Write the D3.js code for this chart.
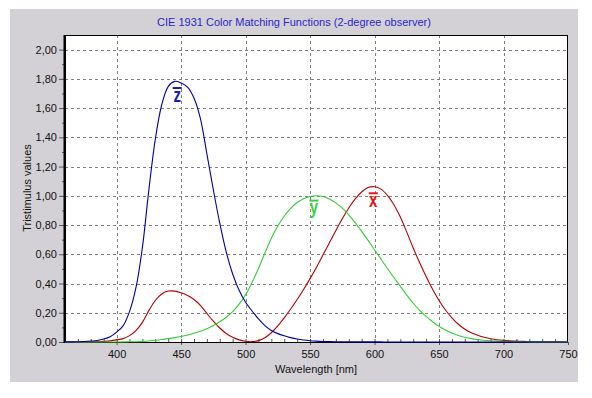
<!DOCTYPE html>
<html>
<head>
<meta charset="utf-8">
<script src="https://cdn.jsdelivr.net/npm/d3@7"></script>
<style>
  body { margin: 0; background: #fff; }
  svg { display: block; font-family: "Liberation Sans", Arial, sans-serif; }
</style>
</head>
<body>
<div id="chart"></div>
<script>
// CIE 1931 2-degree colour matching functions, 5 nm steps
const wavelengths = [360, 365, 370, 375, 380, 385, 390, 395, 400, 405, 410, 415, 420, 425, 430, 435,
  440, 445, 450, 455, 460, 465, 470, 475, 480, 485, 490, 495, 500, 505, 510, 515,
  520, 525, 530, 535, 540, 545, 550, 555, 560, 565, 570, 575, 580, 585, 590, 595,
  600, 605, 610, 615, 620, 625, 630, 635, 640, 645, 650, 655, 660, 665, 670, 675,
  680, 685, 690, 695, 700, 705, 710, 715, 720, 725, 730, 735, 740, 745, 750];

const xBar = [0.00013, 0.00023, 0.00042, 0.00074, 0.00137, 0.00224, 0.00424, 0.00765, 0.01431, 0.02319, 0.04351, 0.07763, 0.13438, 0.21477, 0.2839, 0.3285,
  0.34828, 0.34806, 0.3362, 0.3187, 0.2908, 0.2511, 0.19536, 0.1421, 0.09564, 0.05795, 0.03201, 0.0147, 0.0049, 0.0024, 0.0093, 0.0291,
  0.06327, 0.1096, 0.1655, 0.22575, 0.2904, 0.3597, 0.43345, 0.51205, 0.5945, 0.6784, 0.7621, 0.8425, 0.9163, 0.9786, 1.0263, 1.0567,
  1.0622, 1.0456, 1.0026, 0.9384, 0.85445, 0.7514, 0.6424, 0.5419, 0.4479, 0.3608, 0.2835, 0.2187, 0.1649, 0.1212, 0.0874, 0.0636,
  0.04677, 0.0329, 0.0227, 0.01584, 0.01136, 0.00811, 0.00579, 0.00411, 0.0029, 0.00205, 0.00144, 0.001, 0.00069, 0.00048, 0.00033];

const yBar = [0.000004, 0.000007, 0.000012, 0.000022, 0.000039, 0.000064, 0.00012, 0.000217, 0.000396, 0.00064, 0.00121, 0.00218, 0.004, 0.0073, 0.0116, 0.01684,
  0.023, 0.0298, 0.038, 0.048, 0.06, 0.0739, 0.09098, 0.1126, 0.13902, 0.1693, 0.20802, 0.2586, 0.323, 0.4073, 0.503, 0.6082,
  0.71, 0.7932, 0.862, 0.91485, 0.954, 0.9803, 0.99495, 1.0, 0.995, 0.9786, 0.952, 0.9154, 0.87, 0.8163, 0.757, 0.6949,
  0.631, 0.5668, 0.503, 0.4412, 0.381, 0.321, 0.265, 0.217, 0.175, 0.1382, 0.107, 0.0816, 0.061, 0.04458, 0.032, 0.0232,
  0.017, 0.01192, 0.00821, 0.00572, 0.0041, 0.00293, 0.00209, 0.00148, 0.00105, 0.00074, 0.00052, 0.00036, 0.00025, 0.00017, 0.00012];

const zBar = [0.00061, 0.00109, 0.00195, 0.00349, 0.00645, 0.01055, 0.02005, 0.03621, 0.06785, 0.1102, 0.2074, 0.3713, 0.6456, 1.03905, 1.3856, 1.62296,
  1.74706, 1.7826, 1.77211, 1.7441, 1.6692, 1.5281, 1.28764, 1.0419, 0.81295, 0.6162, 0.46518, 0.3533, 0.272, 0.2123, 0.1582, 0.1117,
  0.07825, 0.05725, 0.04216, 0.02984, 0.0203, 0.0134, 0.00875, 0.00575, 0.0039, 0.00275, 0.0021, 0.0018, 0.00165, 0.0014, 0.0011, 0.001,
  0.0008, 0.0006, 0.00034, 0.00024, 0.00019, 0.0001, 0.00005, 0.00003, 0.00002, 0.00001, 0, 0, 0, 0, 0, 0,
  0, 0, 0, 0, 0, 0, 0, 0, 0, 0, 0, 0, 0, 0, 0];

const xTicks = [400, 450, 500, 550, 600, 650, 700, 750];
const xMinorTicks = [370, 380, 390, 400, 410, 420, 430, 440, 450, 460, 470, 480, 490, 500, 510, 520, 530, 540,
  550, 560, 570, 580, 590, 600, 610, 620, 630, 640, 650, 660, 670, 680, 690, 700, 710, 720, 730, 740];
const yTicks = [0, 0.2, 0.4, 0.6, 0.8, 1.0, 1.2, 1.4, 1.6, 1.8, 2.0];
const yMinorTicks = [0.1, 0.3, 0.5, 0.7, 0.9, 1.1, 1.3, 1.5, 1.7, 1.9];

// curve labels: letter anchored at (wavelength, value)
const curveLabels = [
  { name: "z", wl: 447, v: 1.645, color: "#1a1ab8" },
  { name: "y", wl: 553, v: 0.875, color: "#3ccf3c" },
  { name: "x", wl: 599, v: 0.925, color: "#e01818" }
];

const W = 592, H = 398;
const margin = { top: 35, right: 24, bottom: 56, left: 65 };
const width = W - margin.left - margin.right;
const height = H - margin.top - margin.bottom;

const x = d3.scaleLinear().domain([360, 750]).range([0, width]);
const y = d3.scaleLinear().domain([0, 2.1]).range([height, 0]);
const fmt = d => d3.format(".2f")(d).replace(".", ",");

const svg = d3.select("#chart").append("svg")
  .attr("width", W)
  .attr("height", H);

// grey panel
svg.append("rect")
  .attr("x", 10).attr("y", 9)
  .attr("width", 568).attr("height", 373)
  .attr("fill", "#d4d1d6");

svg.append("text")
  .attr("x", 294).attr("y", 26)
  .attr("text-anchor", "middle")
  .attr("font-size", 11)
  .attr("fill", "#2828c8")
  .text("CIE 1931 Color Matching Functions (2-degree observer)");

const g = svg.append("g")
  .attr("transform", "translate(" + margin.left + "," + margin.top + ")");

g.append("rect")
  .attr("width", width).attr("height", height)
  .attr("fill", "#fff");

// dashed grid
g.selectAll(".vgrid")
  .data(xTicks.filter(d => d < 750))
  .enter().append("line")
  .attr("x1", d => Math.round(x(d)) + 0.5).attr("x2", d => Math.round(x(d)) + 0.5)
  .attr("y1", 0).attr("y2", height)
  .attr("stroke", "#808080").attr("stroke-dasharray", "3,3");

g.selectAll(".hgrid")
  .data(yTicks.filter(d => d > 0))
  .enter().append("line")
  .attr("x1", 0).attr("x2", width)
  .attr("y1", d => Math.round(y(d)) + 0.5).attr("y2", d => Math.round(y(d)) + 0.5)
  .attr("stroke", "#808080").attr("stroke-dasharray", "3,3");

// axes
const yAxis = g.append("g")
  .call(d3.axisLeft(y).tickValues(yTicks).tickSize(6).tickPadding(2).tickFormat(fmt));
const yMinor = g.append("g")
  .call(d3.axisLeft(y).tickValues(yMinorTicks).tickSize(3).tickFormat(""));
const xAxis = g.append("g")
  .attr("transform", "translate(0," + height + ")")
  .call(d3.axisBottom(x).tickValues(xTicks).tickSize(3).tickPadding(5).tickFormat(d3.format("d")));
const xMinor = g.append("g")
  .attr("transform", "translate(0," + height + ")")
  .call(d3.axisBottom(x).tickValues(xMinorTicks).tickSize(-3).tickFormat(""));

[yAxis, yMinor, xAxis, xMinor].forEach(a => {
  a.select(".domain").remove();
  a.selectAll("line").attr("stroke", "#555");
  a.selectAll("text").attr("font-size", 11).attr("fill", "#111").attr("font-family", "Liberation Sans, Arial, sans-serif");
});

// frame
g.append("rect")
  .attr("x", 0.5).attr("y", 0.5)
  .attr("width", width - 1).attr("height", height)
  .attr("fill", "none").attr("stroke", "#000");
g.append("line")
  .attr("x1", -0.5).attr("x2", -0.5)
  .attr("y1", 0).attr("y2", height + 1)
  .attr("stroke", "#000").attr("stroke-width", 2);

// curves
const line = vals => d3.line()
  .x((d, i) => x(wavelengths[i]))
  .y(d => y(d))
  .curve(d3.curveCatmullRom)(vals);

g.append("path").attr("d", line(xBar)).attr("fill", "none").attr("stroke", "#b40000").attr("stroke-width", 1.1);
g.append("path").attr("d", line(yBar)).attr("fill", "none").attr("stroke", "#33cc33").attr("stroke-width", 1.1);
g.append("path").attr("d", line(zBar)).attr("fill", "none").attr("stroke", "#0000a0").attr("stroke-width", 1.1);

// bar letters
curveLabels.forEach(l => {
  const lx = x(l.wl), ly = y(l.v);
  g.append("text")
    .attr("transform", "translate(" + lx + "," + ly + ") scale(1,1.35)")
    .attr("text-anchor", "middle")
    .attr("font-size", 15)
    .attr("font-weight", "bold")
    .attr("fill", l.color)
    .text(l.name);
  g.append("line")
    .attr("x1", lx - 4.5).attr("x2", lx + 4.5)
    .attr("y1", ly - 13.5).attr("y2", ly - 13.5)
    .attr("stroke", l.color).attr("stroke-width", 2);
});

// axis titles
svg.append("text")
  .attr("x", 316).attr("y", 373)
  .attr("text-anchor", "middle")
  .attr("font-size", 11)
  .attr("fill", "#111")
  .text("Wavelength [nm]");

svg.append("text")
  .attr("transform", "translate(31,188) rotate(-90)")
  .attr("text-anchor", "middle")
  .attr("font-size", 11)
  .attr("fill", "#111")
  .text("Tristimulus values");
</script>
</body>
</html>
